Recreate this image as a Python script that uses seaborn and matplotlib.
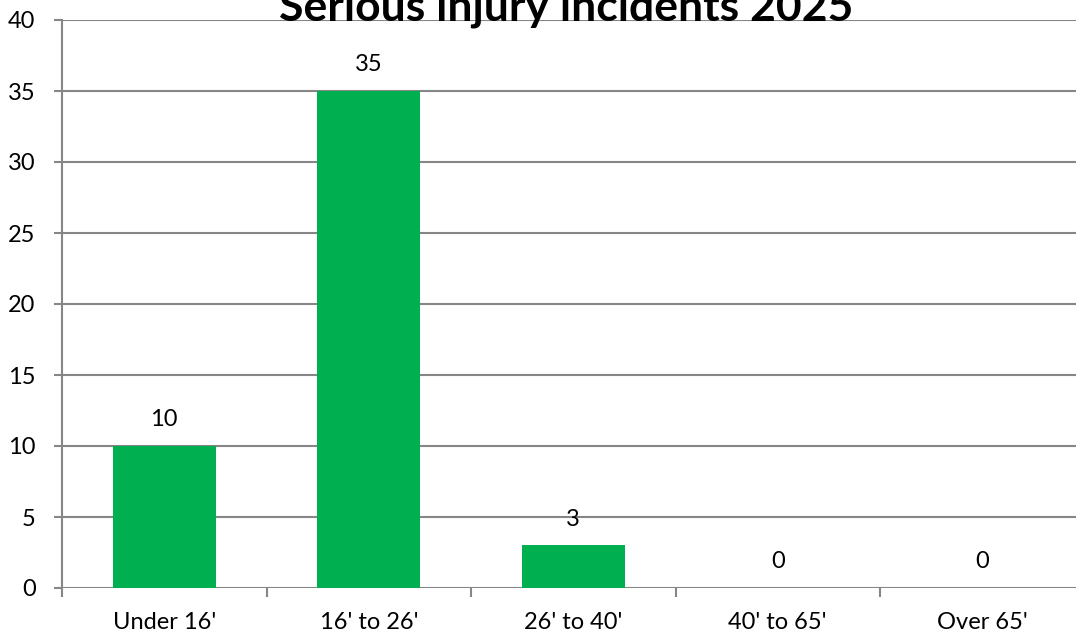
import matplotlib
matplotlib.use("Agg")
import matplotlib.pyplot as plt
import seaborn as sns
import pandas as pd

categories = ["Under 16'", "16' to 26'", "26' to 40'", "40' to 65'", "Over 65'"]
values = [10, 35, 3, 0, 0]
title = "Serious injury incidents 2025"
yticks = [0, 5, 10, 15, 20, 25, 30, 35, 40]

sns.set_theme(style="white")
plt.rcParams['font.family'] = ['Lato', 'DejaVu Sans']

df = pd.DataFrame({"cat": categories, "val": values})

fig = plt.figure(figsize=(10.76, 6.36), dpi=100)
ax = fig.add_axes([62/1076, (636-588)/636, 1022.5/1076, 568/636])
sns.barplot(data=df, x="cat", y="val", color="#00B050", width=0.505,
            saturation=1, linewidth=0, ax=ax, zorder=3)

grid = "#868686"
ax.set_ylim(0, 40)
ax.set_xlim(-0.5, 4.5)
ax.set_yticks(yticks)
ax.set_yticklabels([str(t) for t in yticks])
for t in yticks:
    ax.axhline(t, color=grid, lw=1.5, zorder=1)
for s in ["top", "right", "bottom"]:
    ax.spines[s].set_visible(False)
ax.spines["left"].set_color(grid)
ax.spines["left"].set_linewidth(1.5)
ax.spines["left"].set_zorder(4)

ax.set_xticks(range(len(categories)))
ax.set_xticklabels(categories)
ax.tick_params(axis="x", length=0, pad=17, labelsize=17, colors="black")
ax.tick_params(axis="y", left=True, length=6, width=1.5, color=grid,
               pad=13, labelsize=17, labelcolor="black")
# category boundary ticks
ax.set_xticks([i - 0.5 for i in range(len(categories) + 1)], minor=True)
ax.tick_params(axis="x", which="minor", bottom=True, length=6.5, width=1.5, color=grid)
ax.set_xlabel("")
ax.set_ylabel("")

for i, v in enumerate(values):
    ax.annotate(str(v), (i, v), xytext=(0, 19), textcoords="offset points",
                ha="center", va="center", fontsize=17, color="black")

fig.text(566/1076, 1 - 20/636, title, ha="center", va="baseline",
         fontsize=32, fontweight="bold", color="black")

fig.savefig("out.png", dpi=100)
